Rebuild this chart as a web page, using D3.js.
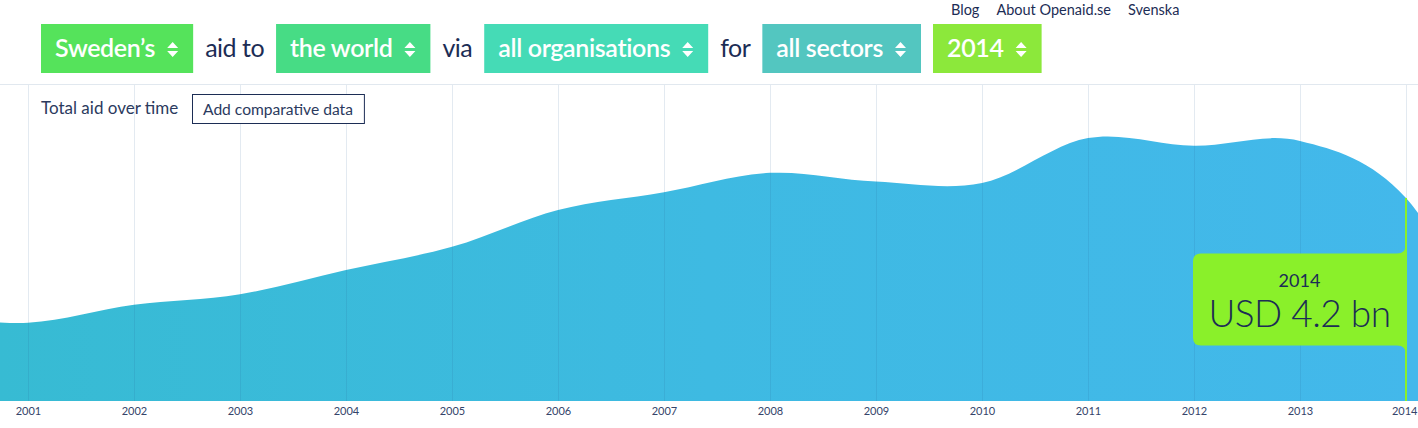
<!DOCTYPE html>
<html><head><meta charset="utf-8">
<script src="https://cdn.jsdelivr.net/npm/d3@7"></script>
<style>
body{margin:0;background:#fff;overflow:hidden}
svg{display:block}
</style></head><body>
<svg id="c" width="1418" height="428"></svg>
<script>
(function(){
// ---- data ----
const years  = [2000,2001,2002,2003,2004,2005,2006,2007,2008,2009,2010,2011,2012,2013,2014,2015];
const values = [1.78,1.62,1.99,2.21,2.71,3.19,3.95,4.32,4.72,4.54,4.51,5.44,5.28,5.38,4.20,0.55];
const tickYears = [2001,2002,2003,2004,2005,2006,2007,2008,2009,2010,2011,2012,2013,2014];
const selectedYear = 2014;
const selectedLabel = "USD 4.2 bn";
const sentence = ["Sweden’s","aid to","the world","via","all organisations","for","all sectors","2014"];
const sentenceIsMenu = [true,false,true,false,true,false,true,true];
const menuColors = ["#55e35b","#47dc85","#45dbb6","#53c6c0","#8ce83b"];
const navLinks = ["Blog","About Openaid.se","Svenska"];

const FONT = "Lato,sans-serif";
const NAVY = "#1c2d55";
const svg = d3.select("#c");
const W = 1418;

const x = d3.scaleLinear().domain([2001,2014]).range([28,1406]);
const y = d3.scaleLinear().domain([0,6]).range([401,111]);

// gradient
const defs = svg.append("defs");
const g = defs.append("linearGradient").attr("id","ag").attr("gradientUnits","userSpaceOnUse")
  .attr("x1",0).attr("x2",W).attr("y1",0).attr("y2",0);
g.append("stop").attr("offset","0").attr("stop-color","#37bbd3");
g.append("stop").attr("offset","0.5").attr("stop-color","#3ebae2");
g.append("stop").attr("offset","1").attr("stop-color","#43b8eb");

// header border
svg.append("line").attr("x1",0).attr("x2",W).attr("y1",84.5).attr("y2",84.5)
  .attr("stroke","#e1e8ef").attr("stroke-width",1);

// area
const area = d3.area().x((d,i)=>x(years[i])).y0(y(0)).y1(d=>y(d)).curve(d3.curveCardinal);
svg.append("path").datum(values).attr("d",area).attr("fill","url(#ag)");

// gridlines
svg.append("g").selectAll("line").data(tickYears).join("line")
  .attr("x1",d=>Math.round(x(d))+0.5).attr("x2",d=>Math.round(x(d))+0.5)
  .attr("y1",85).attr("y2",401)
  .attr("stroke","rgba(40,90,150,0.13)").attr("stroke-width",1);

// x axis labels
const xAxis = d3.axisBottom(x).tickValues(tickYears).tickFormat(d3.format("d")).tickSize(0).tickPadding(0);
const ax = svg.append("g").attr("transform","translate(0,407)").call(xAxis);
ax.select(".domain").remove();
ax.selectAll("text").attr("font-family",FONT).attr("font-size",11).attr("fill","#34446a").attr("dy","0.71em");
ax.selectAll(".tick").filter(d=>d===tickYears[tickYears.length-1]).select("text")
  .attr("text-anchor","end").attr("x",W-1-x(tickYears[tickYears.length-1]));

// selected marker
const sx = x(selectedYear), sy = y(values[years.indexOf(selectedYear)]), by = y(0);
const cy = (sy+by)/2;
svg.append("rect").attr("x",sx-1).attr("y",sy).attr("width",2).attr("height",by-sy).attr("fill","#8af02a");
const bx0 = sx-213, bTop = cy-46, bBot = cy+46;
const p = d3.path();
p.moveTo(bx0+8,bTop); p.lineTo(sx-9,bTop); p.quadraticCurveTo(sx,bTop,sx,bTop-9);
p.lineTo(sx,bBot+9); p.quadraticCurveTo(sx,bBot,sx-9,bBot); p.lineTo(bx0+8,bBot);
p.quadraticCurveTo(bx0,bBot,bx0,bBot-8); p.lineTo(bx0,bTop+8); p.quadraticCurveTo(bx0,bTop,bx0+8,bTop); p.closePath();
svg.append("path").attr("d",p.toString()).attr("fill","#8af02a");
const tcx = (bx0+sx)/2;
svg.append("text").attr("x",tcx).attr("y",bTop+33).attr("text-anchor","middle")
  .attr("font-family",FONT).attr("font-size",18).attr("fill",NAVY).text(selectedYear);
svg.append("text").attr("x",tcx).attr("y",bTop+73).attr("text-anchor","middle")
  .attr("font-family",FONT).attr("font-size",37).attr("letter-spacing",-0.5).attr("fill",NAVY).attr("font-weight",300).text(selectedLabel);

// top nav
let nx = 951;
navLinks.forEach(t=>{
  const tx = svg.append("text").attr("x",nx).attr("y",15).attr("font-family",FONT)
    .attr("font-size",14.5).attr("fill",NAVY).text(t);
  nx += tx.node().getComputedTextLength() + 17;
});

// sentence
let cx = 41, mi = 0;
sentence.forEach((t,i)=>{
  if (sentenceIsMenu[i]) {
    const grp = svg.append("g");
    const r = grp.append("rect").attr("y",24).attr("height",49).attr("x",cx).attr("fill",menuColors[mi++]);
    const tx = grp.append("text").attr("x",cx+14).attr("y",57).attr("font-family",FONT)
      .attr("font-size",25).attr("letter-spacing",-0.35).attr("font-weight",600).attr("fill","#fff").text(t);
    const tw = tx.node().getComputedTextLength();
    const ax0 = cx+14+tw+12;
    grp.append("path").attr("d",`M${ax0},48 L${ax0+5.5},42 L${ax0+11},48 Z M${ax0},51 L${ax0+5.5},57 L${ax0+11},51 Z`).attr("fill","#fff");
    const w = 14+tw+12+11+15;
    r.attr("width",w);
    cx += w + 12;
  } else {
    const tx = svg.append("text").attr("x",cx).attr("y",57).attr("font-family",FONT)
      .attr("font-size",25).attr("letter-spacing",-0.5).attr("fill",NAVY).text(t);
    cx += tx.node().getComputedTextLength() + 12;
  }
});

// subtitle and button
svg.append("text").attr("x",41).attr("y",114).attr("font-family",FONT).attr("font-size",17).attr("fill","#2b3a5e").text("Total aid over time");
const bt = svg.append("text").attr("x",203).attr("y",115).attr("font-family",FONT).attr("font-size",15.6).attr("fill","#2b3a5e").text("Add comparative data");
const bw = bt.node().getComputedTextLength();
svg.insert("rect",()=>bt.node()).attr("x",192.5).attr("y",94.5).attr("width",bw+22).attr("height",29)
  .attr("fill","#fff").attr("stroke",NAVY).attr("stroke-width",1);
})();
</script>
</body></html>
